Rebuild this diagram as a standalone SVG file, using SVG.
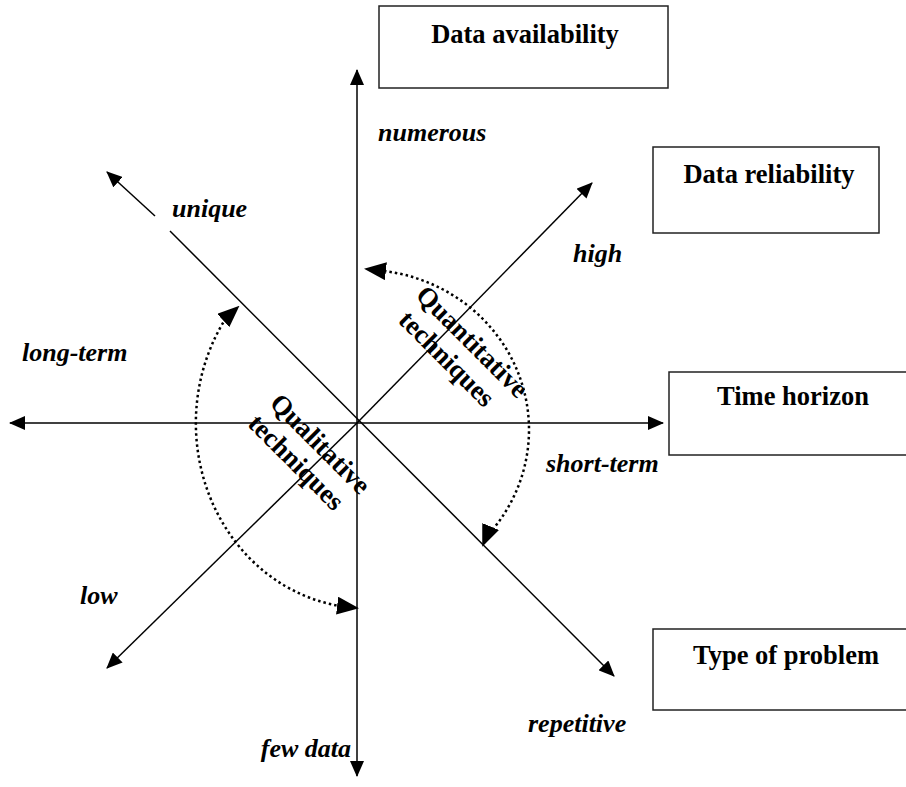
<svg xmlns="http://www.w3.org/2000/svg" width="906" height="787" viewBox="0 0 906 787">
<style>
.box{fill:#fff;stroke:#222;stroke-width:1.5}
.title{font-family:"Liberation Serif","Times New Roman",serif;font-weight:bold;font-size:26.5px;text-anchor:middle;fill:#000}
.lab{font-family:"Liberation Serif","Times New Roman",serif;font-weight:bold;font-style:italic;font-size:26px;fill:#000}
.tech{font-family:"Liberation Serif","Times New Roman",serif;font-weight:bold;font-size:27px;text-anchor:middle;fill:#000}
.axis{stroke:#000;stroke-width:1.5;fill:none}
.arc{stroke:#000;stroke-width:2.5;fill:none;stroke-dasharray:2.5 3}
.tip{stroke:#000;stroke-width:0.1;fill:none}
</style>
<defs>
<marker id="ah" viewBox="0 0 16 14" refX="15" refY="7" markerWidth="16" markerHeight="14" markerUnits="userSpaceOnUse" orient="auto">
<path d="M0,0 L16,7 L0,14 z" fill="#000"/>
</marker>
<marker id="ah2" viewBox="0 0 22 18" refX="20" refY="9" markerWidth="22" markerHeight="18" markerUnits="userSpaceOnUse" orient="auto">
<path d="M0,0 L22,9 L0,18 z" fill="#000"/>
</marker>
</defs>
<rect width="906" height="787" fill="#fff"/>
<g id="connectors">
<line class="axis" x1="357" y1="423" x2="357" y2="70" marker-end="url(#ah)"/>
<line class="axis" x1="357" y1="423" x2="357" y2="776" marker-end="url(#ah)"/>
<line class="axis" x1="357" y1="423" x2="10" y2="423" marker-end="url(#ah)"/>
<line class="axis" x1="357" y1="423" x2="663" y2="423" marker-end="url(#ah)"/>
<line class="axis" x1="155" y1="216" x2="107" y2="172" marker-end="url(#ah)"/>
<line class="axis" x1="170" y1="231" x2="614" y2="676" marker-end="url(#ah)"/>
<line class="axis" x1="357" y1="423" x2="592" y2="183" marker-end="url(#ah)"/>
<line class="axis" x1="357" y1="423" x2="107" y2="668" marker-end="url(#ah)"/>
<path class="arc" d="M384,271 A166,160 0 0 1 488,535"/>
<path class="tip" d="M384,271 L366,269" marker-end="url(#ah2)"/>
<path class="tip" d="M490,528 L483,545" marker-end="url(#ah2)"/>
<path class="arc" d="M226,318 A170,185 0 0 0 340,606"/>
<path class="tip" d="M226,318 L238,307" marker-end="url(#ah2)"/>
<path class="tip" d="M340,606 L357,608" marker-end="url(#ah2)"/>
</g>
<g id="node-data-availability">
<rect class="box" x="379" y="6" width="289" height="82"/>
<text class="title" x="525" y="43">Data availability</text>
</g>
<g id="node-data-reliability">
<rect class="box" x="653" y="147" width="226" height="86"/>
<text class="title" x="769" y="183">Data reliability</text>
</g>
<g id="node-time-horizon">
<rect class="box" x="669" y="372" width="250" height="83"/>
<text class="title" x="793" y="405">Time horizon</text>
</g>
<g id="node-type-of-problem">
<rect class="box" x="653" y="629" width="266" height="81"/>
<text class="title" x="786" y="664">Type of problem</text>
</g>
<g id="labels">
<text class="lab" x="378" y="141">numerous</text>
<text class="lab" x="172" y="217">unique</text>
<text class="lab" x="573" y="262">high</text>
<text class="lab" x="22" y="361">long-term</text>
<text class="lab" x="546" y="472">short-term</text>
<text class="lab" x="80" y="604">low</text>
<text class="lab" x="528" y="732">repetitive</text>
<text class="lab" x="351" y="757" text-anchor="end">few data</text>
</g>
<g id="node-quantitative">
<text class="tech" transform="translate(466,348) rotate(45)"><tspan x="0" y="0">Quantitative</tspan><tspan x="-6" y="30">techniques</tspan></text>
</g>
<g id="node-qualitative">
<text class="tech" transform="translate(314,450) rotate(45)"><tspan x="0" y="0">Qualitative</tspan><tspan x="-4" y="30">techniques</tspan></text>
</g>
</svg>
